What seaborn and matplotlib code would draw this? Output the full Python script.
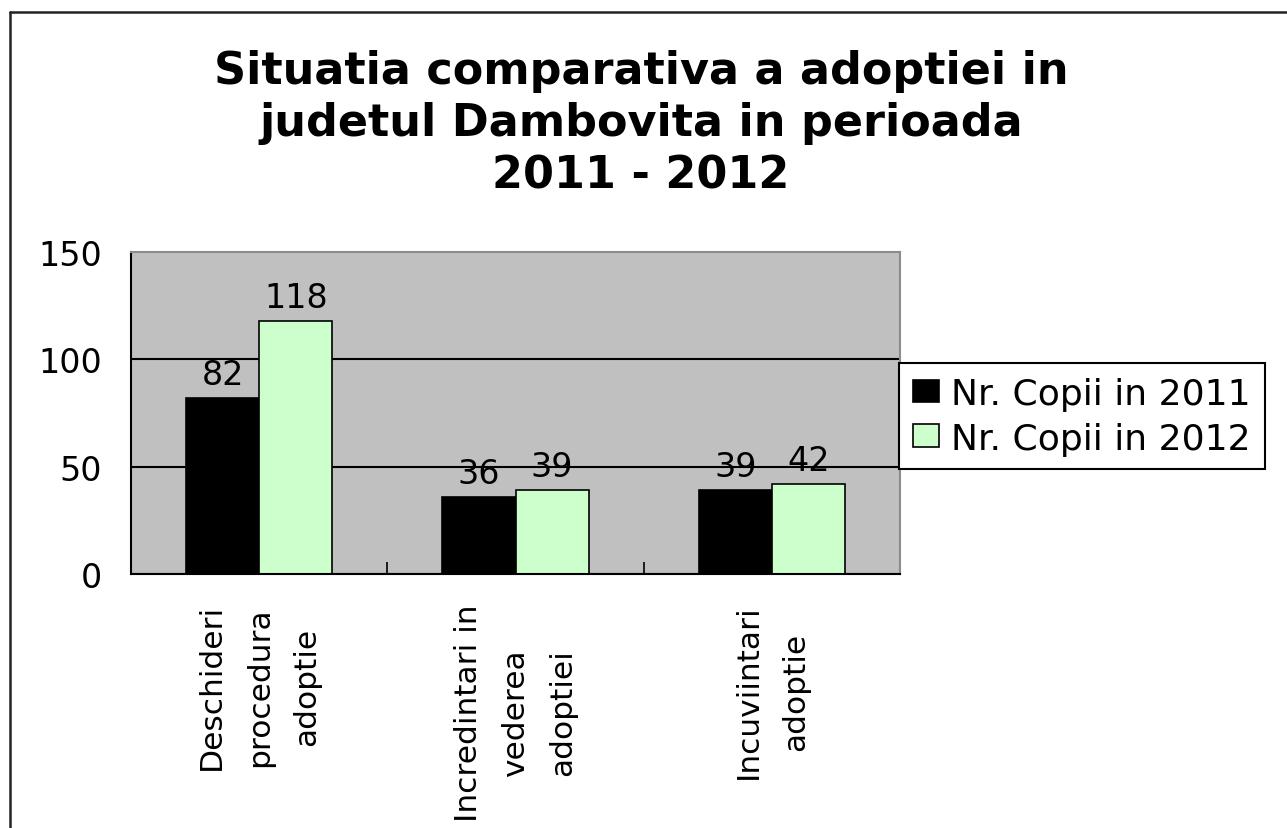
import numpy as np
import pandas as pd
import matplotlib
matplotlib.use("Agg")
import matplotlib.pyplot as plt
import seaborn as sns
from matplotlib.lines import Line2D

# ---- data ----
categories = ["Deschideri\nprocedura\nadoptie",
              "Incredintari in\nvederea\nadoptiei",
              "Incuviintari\nadoptie"]
series_names = ["Nr. Copii in 2011", "Nr. Copii in 2012"]
values_2011 = [82, 36, 39]
values_2012 = [118, 39, 42]
y_ticks = [0, 50, 100, 150]
title_text = "Situatia comparativa a adoptiei in\njudetul Dambovita in perioada\n2011 - 2012"
colors = ["#000000", "#CCFFCC"]

df = pd.DataFrame({
    "cat": categories * 2,
    "series": [series_names[0]] * len(categories) + [series_names[1]] * len(categories),
    "val": values_2011 + values_2012,
})

W, H = 1287, 829
sns.set_theme(style="white")
plt.rcParams["font.family"] = ["DejaVu Sans"]
plt.rcParams["text.color"] = "black"
plt.rcParams["xtick.color"] = "black"
plt.rcParams["ytick.color"] = "black"
plt.rcParams["axes.labelcolor"] = "black"

fig = plt.figure(figsize=(W / 100, H / 100), dpi=100)
fig.patch.set_facecolor("white")
ax = fig.add_axes([131 / W, 1 - 575 / H, (900 - 131) / W, (575 - 253) / H])

sns.barplot(data=df, x="cat", y="val", hue="series", palette=colors,
            width=0.57, gap=0, edgecolor="black", linewidth=1.2,
            saturation=1, errorbar=None, ax=ax)

ax.set_facecolor("#C0C0C0")
ax.set_xlim(-0.5, len(categories) - 0.5)
ax.set_ylim(y_ticks[0], y_ticks[-1])
ax.set_yticks(y_ticks)
ax.set_xlabel("")
ax.set_ylabel("")

# gridlines (not at the top edge)
ax.set_axisbelow(True)
ax.yaxis.grid(True, color="black", linewidth=1.5)
ax.yaxis.get_gridlines()[-1].set_visible(False)

# spines
for s in ["left", "bottom"]:
    ax.spines[s].set_color("black")
    ax.spines[s].set_linewidth(1.5)
for s in ["top", "right"]:
    ax.spines[s].set_color("#8C8C8C")
    ax.spines[s].set_linewidth(1.5)

# ticks
ax.tick_params(axis="y", direction="in", length=9, width=1.2, color="black",
               labelsize=24, pad=21, left=True, labelcolor="black")
ax.tick_params(axis="x", which="major", length=0, labelsize=22.5, pad=21,
               labelcolor="black")
ax.set_xticks(np.arange(len(categories)))
ax.set_xticklabels(categories, rotation=90, ha="center", va="top",
                   multialignment="center", linespacing=1.8)
ax.set_xticks(np.arange(len(categories) - 1) + 0.5, minor=True)
ax.tick_params(axis="x", which="minor", direction="in", length=9, width=1.2,
               color="black", bottom=True)

# data labels
for cont in ax.containers:
    ax.bar_label(cont, padding=5, fontsize=24, color="black")

# legend
handles, labels = ax.get_legend_handles_labels()
leg = ax.legend(handles, labels, loc="upper left",
                bbox_to_anchor=(899 / W, 1 - 364 / H), bbox_transform=fig.transFigure,
                borderaxespad=0, fontsize=26, frameon=True, fancybox=False,
                framealpha=1, edgecolor="black", handlelength=0.72, handleheight=0.6,
                handletextpad=0.35, labelspacing=0.3, borderpad=0.38)
leg.get_frame().set_linewidth(1.5)
for t in leg.get_texts():
    t.set_color("black")

# title
fig.text(0.498, 1 - 50 / H, title_text, ha="center", va="top",
         fontsize=32, fontweight="bold", color="black", linespacing=1.27)

# outer frame (clipped on right/bottom)
fig.add_artist(Line2D([10 / W, 10 / W], [0, 1 - 13 / H], transform=fig.transFigure,
                      color="#222222", linewidth=1.8))
fig.add_artist(Line2D([10 / W, 1], [1 - 13 / H, 1 - 13 / H], transform=fig.transFigure,
                      color="#222222", linewidth=1.8))

fig.savefig("out.png", dpi=100)
